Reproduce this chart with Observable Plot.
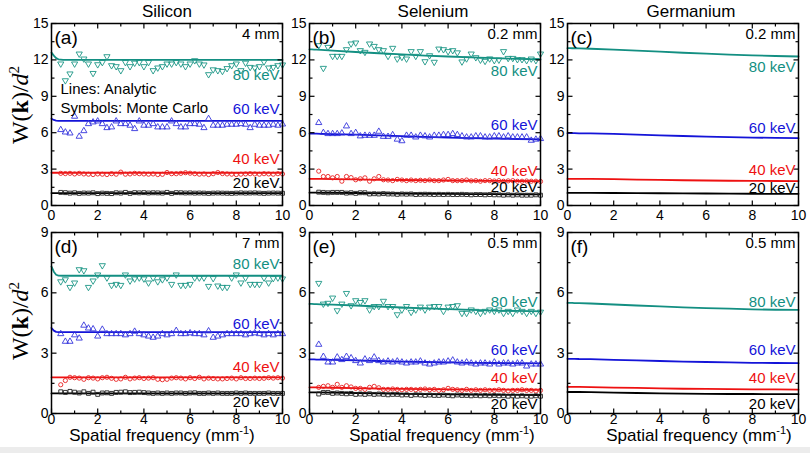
<!DOCTYPE html>
<html><head><meta charset="utf-8">
<script src="https://cdn.jsdelivr.net/npm/d3@7"></script>
<script src="https://cdn.jsdelivr.net/npm/@observablehq/plot@0.6"></script>
<style>
body{margin:0;background:#fff;}
#root{position:relative;width:810px;height:453px;background:#fff;overflow:hidden;font-family:"Liberation Sans",Arial,sans-serif;color:#000;}
.abs{position:absolute;white-space:nowrap;line-height:1;}
.coltitle{font-size:17px;transform:translateX(-50%);}
.xtitle{font-size:17px;transform:translateX(-50%);}
.xtitle sup{font-size:11px;vertical-align:baseline;position:relative;top:-0.6em;}
.ytitle{font-family:"Liberation Serif","Times New Roman",serif;font-size:24px;transform:translate(-50%,-50%) rotate(-90deg);}
.ytitle sup{font-size:15px;vertical-align:baseline;position:relative;top:-0.6em;}
</style></head>
<body><div id="root"></div>
<script>
// ---------- data ----------
const energies = ["80 keV", "60 keV", "40 keV", "20 keV"];
const columnTitles = ["Silicon", "Selenium", "Germanium"];
const panelLetters = ["(a)", "(b)", "(c)", "(d)", "(e)", "(f)"];
const thicknesses = ["4 mm", "0.2 mm", "0.2 mm", "7 mm", "0.5 mm", "0.5 mm"];
const xMajor = [0, 2, 4, 6, 8, 10];
const xMinor = [1, 3, 5, 7, 9];
const yMajorTop = [0, 3, 6, 9, 12, 15];
const yMinorTop = [1.5, 4.5, 7.5, 10.5, 13.5];
const yMajorBot = [0, 3, 6, 9];
const yMinorBot = [1.5, 4.5, 7.5];

// analytic curves
const lineX = [0, 0.1, 0.2, 0.3, 0.5, 1, 2, 3, 4, 5, 6, 7, 8, 9, 10];
const aL80 = [12.6,12.35,12.15,12.05,12.0,12.0,12.0,12.0,12.0,12.0,12.0,12.0,12.0,12.0,12.0];
const aL60 = [7.15,7.05,7.0,6.98,6.97,6.97,6.97,6.97,6.97,6.97,6.97,6.97,6.97,6.97,6.97];
const aL40 = [2.7,2.7,2.7,2.7,2.7,2.7,2.7,2.7,2.7,2.7,2.7,2.7,2.7,2.7,2.7];
const aL20 = [1.02,1.02,1.02,1.02,1.02,1.02,1.02,1.02,1.02,1.02,1.02,1.02,1.02,1.02,1.02];
const bL80 = [12.87,12.86,12.85,12.84,12.82,12.76,12.65,12.55,12.45,12.36,12.28,12.2,12.14,12.08,12.04];
const bL60 = [5.93,5.93,5.92,5.92,5.91,5.89,5.84,5.78,5.72,5.66,5.6,5.55,5.51,5.48,5.45];
const bL40 = [2.2,2.2,2.2,2.2,2.19,2.18,2.15,2.12,2.1,2.08,2.06,2.04,2.03,2.02,2.01];
const bL20 = [1.06,1.06,1.06,1.06,1.05,1.05,1.03,1.01,0.99,0.97,0.95,0.94,0.93,0.92,0.91];
const cL80 = [12.97,12.97,12.96,12.96,12.95,12.92,12.85,12.76,12.68,12.59,12.51,12.44,12.38,12.32,12.28];
const cL60 = [5.96,5.96,5.96,5.96,5.95,5.94,5.9,5.84,5.78,5.73,5.68,5.64,5.6,5.57,5.55];
const cL40 = [2.2,2.2,2.2,2.2,2.2,2.19,2.17,2.14,2.11,2.08,2.06,2.04,2.03,2.02,2.01];
const cL20 = [1.04,1.04,1.04,1.04,1.04,1.04,1.03,1.02,1.01,1.0,0.99,0.98,0.97,0.96,0.96];
const dL80 = [7.3,7.05,6.9,6.86,6.85,6.85,6.85,6.85,6.85,6.85,6.85,6.85,6.85,6.85,6.85];
const dL60 = [4.25,4.12,4.06,4.05,4.05,4.05,4.05,4.05,4.05,4.05,4.05,4.05,4.05,4.05,4.05];
const dL40 = [1.8,1.8,1.8,1.8,1.8,1.8,1.8,1.8,1.8,1.8,1.8,1.8,1.8,1.8,1.8];
const dL20 = [1.0,1.0,1.0,1.0,1.0,1.0,1.0,1.0,1.0,1.0,1.0,1.0,1.0,1.0,1.0];
const eL80 = [5.45,5.45,5.44,5.44,5.43,5.41,5.37,5.32,5.27,5.23,5.19,5.15,5.12,5.1,5.08];
const eL60 = [2.69,2.69,2.69,2.68,2.68,2.67,2.64,2.61,2.58,2.56,2.54,2.52,2.51,2.5,2.49];
const eL40 = [1.3,1.3,1.3,1.3,1.29,1.28,1.26,1.24,1.22,1.21,1.2,1.19,1.19,1.18,1.18];
const eL20 = [1.05,1.05,1.05,1.05,1.05,1.04,1.02,1.0,0.98,0.96,0.95,0.94,0.93,0.93,0.92];
const fL80 = [5.5,5.5,5.5,5.49,5.49,5.47,5.42,5.37,5.33,5.28,5.24,5.21,5.18,5.16,5.15];
const fL60 = [2.72,2.72,2.72,2.72,2.71,2.7,2.67,2.64,2.61,2.58,2.56,2.54,2.52,2.51,2.5];
const fL40 = [1.32,1.32,1.32,1.32,1.32,1.31,1.29,1.27,1.25,1.23,1.22,1.21,1.2,1.2,1.19];
const fL20 = [1.07,1.07,1.07,1.07,1.07,1.06,1.04,1.02,1.0,0.99,0.98,0.97,0.97,0.96,0.96];

// Monte Carlo points
const mcX = [0.4,0.6,0.8,1.0,1.2,1.4,1.6,1.8,2.0,2.2,2.4,2.6,2.8,3.0,3.2,3.4,3.6,3.8,4.0,4.2,4.4,4.6,4.8,5.0,5.2,5.4,5.6,5.8,6.0,6.2,6.4,6.6,6.8,7.0,7.2,7.4,7.6,7.8,8.0,8.2,8.4,8.6,8.8,9.0,9.2,9.4,9.6,9.8,10.0];
const aMC80 = [11.68,10.3,10.86,11.68,12.5,12.09,11.68,10.9,11.62,11.8,12.28,11.54,11.46,11.13,11.8,11.46,11.75,11.8,11.46,11.8,11.13,11.35,11.46,11.68,11.68,11.8,11.68,11.46,11.68,11.95,11.68,11.6,10.8,11.2,11.13,11.07,11.3,11.54,11.68,11.13,11.75,11.4,11.35,11.46,11.85,11.35,11.4,11.54,11.6];
const aMC60 = [6.24,6.04,5.96,7.34,5.69,6.15,6.73,6.87,6.95,6.73,6.4,6.46,6.95,6.73,6.73,6.6,6.32,6.95,6.6,6.6,6.73,6.46,6.46,6.46,6.95,6.73,6.46,6.46,6.73,6.73,6.68,6.4,7.15,6.6,6.6,6.6,6.68,6.68,6.68,6.73,6.68,6.4,6.68,6.6,6.6,6.6,6.68,6.6,6.7];
const aMC40 = [2.65,2.63,2.65,2.6,2.65,2.6,2.58,2.55,2.6,2.58,2.55,2.62,2.58,2.75,2.58,2.6,2.65,2.62,2.6,2.58,2.6,2.55,2.57,2.72,2.62,2.62,2.65,2.7,2.66,2.62,2.58,2.6,2.55,2.62,2.72,2.63,2.6,2.58,2.55,2.58,2.6,2.62,2.6,2.58,2.62,2.6,2.58,2.62,2.6];
const aMC20 = [1.08,1.06,1.02,1.05,1.0,1.03,1.02,1.05,0.98,1.02,1.0,0.98,1.05,1.02,1.08,1.0,1.06,1.04,1.06,1.03,1.05,1.04,1.02,1.08,1.0,1.06,1.05,1.03,1.04,1.02,1.03,1.02,1.0,1.02,1.03,1.02,1.01,1.0,1.02,1.04,1.02,1.03,1.04,1.02,1.0,1.02,1.03,1.02,1.01];
const bMC80 = [13.19,11.32,13.05,12.31,12.31,12.31,12.86,13.33,13.41,12.78,12.64,13.33,13.13,12.86,12.78,12.31,12.97,12.09,12.23,12.09,12.7,12.31,12.7,11.87,12.36,11.82,12.91,12.86,12.7,12.78,12.6,11.85,12.1,12.5,12.2,12.0,11.9,12.1,11.96,12.0,12.7,12.14,12.14,12.04,12.04,11.96,12.09,11.96,12.5];
const bMC60 = [6.82,6.0,5.91,5.91,5.91,5.96,6.54,5.91,6.0,5.72,5.77,5.77,5.77,6.1,5.68,5.68,5.82,5.45,5.32,5.77,5.77,5.63,5.77,5.72,5.63,5.77,5.77,5.83,5.83,5.91,5.83,5.72,5.63,5.63,5.72,5.72,5.63,5.63,5.72,5.72,5.63,5.72,5.63,5.63,5.63,5.63,5.36,5.45,5.5];
const bMC40 = [2.83,2.39,2.39,2.28,2.39,2.0,2.39,2.3,2.12,2.2,2.28,2.0,2.2,2.39,2.12,2.1,2.05,2.15,2.1,2.05,2.1,2.05,2.08,2.05,2.1,2.05,2.05,2.1,2.15,2.05,2.05,2.05,2.1,2.03,2.05,2.0,2.05,2.05,2.02,2.05,2.0,2.03,2.05,2.0,2.0,2.02,2.0,2.0,1.98];
const bMC20 = [1.1,1.08,1.05,1.08,1.08,1.08,1.02,1.05,1.0,1.05,1.05,0.95,0.97,0.95,0.98,0.95,0.95,0.92,0.95,0.93,0.95,0.9,0.92,0.93,0.92,0.9,0.92,0.9,0.92,0.9,0.9,0.92,0.9,0.88,0.9,0.9,0.88,0.9,0.88,0.88,0.85,0.88,0.85,0.88,0.85,0.85,0.85,0.88,0.85];
const dMC80 = [6.56,6.66,6.28,6.5,7.16,7.11,6.28,6.6,6.9,7.36,6.75,6.38,6.43,6.38,6.9,6.6,6.7,6.75,6.7,6.5,6.75,6.56,6.66,6.75,6.43,6.9,6.38,6.38,6.43,6.75,6.75,6.75,6.33,6.72,6.35,6.28,6.28,6.75,6.9,6.5,6.75,6.43,6.43,6.43,6.75,6.5,6.72,6.75,6.7];
const dMC60 = [3.96,3.58,3.58,3.9,3.74,4.38,4.24,4.2,3.84,4.18,3.96,3.96,3.96,3.96,3.9,3.96,4.08,3.96,3.9,3.84,3.78,3.84,3.96,3.9,3.96,4.12,3.96,3.96,4.0,3.96,3.96,3.9,4.1,3.78,3.84,3.9,3.96,3.96,3.96,3.96,3.9,3.96,4.0,3.96,3.9,3.96,3.9,3.96,3.96];
const dMC40 = [1.43,1.64,1.8,1.78,1.76,1.7,1.78,1.76,1.72,1.78,1.8,1.75,1.7,1.72,1.8,1.72,1.76,1.78,1.74,1.76,1.78,1.7,1.68,1.7,1.76,1.78,1.76,1.72,1.78,1.74,1.8,1.72,1.76,1.74,1.72,1.72,1.74,1.76,1.72,1.78,1.74,1.74,1.76,1.74,1.75,1.78,1.76,1.78,1.76];
const dMC20 = [1.08,1.05,1.1,1.06,1.02,1.08,1.0,1.06,0.95,1.02,1.03,1.0,1.05,1.06,1.08,1.04,1.05,1.06,1.04,1.02,1.0,1.02,1.0,1.02,1.0,1.02,1.02,1.0,1.02,1.03,1.0,1.0,1.02,1.0,1.02,1.0,1.0,1.0,1.02,1.0,1.02,1.0,1.0,1.0,1.0,1.02,1.0,1.0,1.0];
const eMC80 = [6.48,5.45,5.49,5.75,5.12,5.45,5.98,5.37,5.62,5.53,5.62,5.16,5.33,5.33,5.59,5.33,5.33,4.92,5.16,5.33,5.04,5.16,5.3,5.16,5.3,5.33,5.33,5.09,5.3,5.33,5.37,4.99,4.99,5.16,5.09,4.99,5.09,5.16,5.09,5.16,4.99,5.09,4.99,5.16,5.09,4.99,5.09,4.99,5.05];
const eMC60 = [3.43,2.83,2.55,2.55,2.8,2.67,2.83,2.76,2.62,2.5,2.7,2.62,2.8,2.62,2.55,2.6,2.55,2.6,2.55,2.5,2.55,2.55,2.6,2.5,2.45,2.5,2.55,2.55,2.6,2.65,2.55,2.5,2.55,2.5,2.45,2.5,2.5,2.45,2.55,2.45,2.5,2.5,2.45,2.5,2.5,2.35,2.45,2.45,2.45];
const eMC40 = [1.3,1.35,1.38,1.3,1.45,1.3,1.38,1.32,1.25,1.25,1.2,1.3,1.35,1.28,1.2,1.2,1.22,1.2,1.18,1.2,1.2,1.18,1.2,1.22,1.18,1.2,1.15,1.18,1.25,1.2,1.18,1.15,1.2,1.15,1.18,1.15,1.18,1.15,1.15,1.18,1.15,1.12,1.15,1.15,1.18,1.15,1.15,1.12,1.15];
const eMC20 = [0.97,1.05,1.05,1.0,1.02,1.0,0.98,1.0,0.95,0.97,0.95,0.98,0.95,0.97,0.95,0.93,0.95,0.95,0.92,0.93,0.9,0.93,0.92,0.9,0.92,0.9,0.9,0.92,0.9,0.88,0.92,0.9,0.9,0.88,0.9,0.88,0.9,0.88,0.9,0.88,0.88,0.86,0.88,0.86,0.88,0.86,0.86,0.88,0.86];

// energy label heights (data units) per panel, order 80/60/40/20 keV
const labelYa = [10.7, 7.9, 3.85, 1.85];
const labelYb = [11.05, 6.6, 2.84, 1.5];
const labelYc = [11.4, 6.37, 2.9, 1.42];
const labelYd = [7.44, 4.46, 2.3, 0.56];
const labelYe = [5.54, 3.13, 1.76, 0.48];
const labelYf = [5.54, 3.17, 1.77, 0.48];
const noteLines = ["Lines: Analytic", "Symbols: Monte Carlo"];

// ---------- styling ----------
const lineColors = ["#138f82", "#1414d8", "#ee1111", "#000000"];
const markColors = ["#1c9686", "#3434dc", "#e82020", "#202020"];
const sqrt3 = Math.sqrt(3);
const triDown = {draw(ctx, size) {
  const y = -Math.sqrt(size / (sqrt3 * 3));
  ctx.moveTo(0, -2 * y); ctx.lineTo(-sqrt3 * y, y); ctx.lineTo(sqrt3 * y, y); ctx.closePath();
}};
const markSymbols = [triDown, "triangle", "circle", "square"];
const markR = [2.3, 2.3, 2.1, 2.2];
const tickSym = (dx, dy) => ({draw(ctx) { ctx.moveTo(0, 0); ctx.lineTo(dx, dy); }});

const panels = [
  {left: 51,  top: 23,  h: 182, yMax: 15, yMaj: yMajorTop, yMin: yMinorTop, xPad: 5, lines: [aL80, aL60, aL40, aL20], mc: [aMC80, aMC60, aMC40, aMC20], labY: labelYa, note: true},
  {left: 309, top: 23,  h: 182, yMax: 15, yMaj: yMajorTop, yMin: yMinorTop, xPad: 5, lines: [bL80, bL60, bL40, bL20], mc: [bMC80, bMC60, bMC40, bMC20], labY: labelYb},
  {left: 567, top: 23,  h: 182, yMax: 15, yMaj: yMajorTop, yMin: yMinorTop, xPad: 5, lines: [cL80, cL60, cL40, cL20], mc: null, labY: labelYc},
  {left: 51,  top: 232, h: 181, yMax: 9,  yMaj: yMajorBot, yMin: yMinorBot, xPad: 1, lines: [dL80, dL60, dL40, dL20], mc: [dMC80, dMC60, dMC40, dMC20], labY: labelYd},
  {left: 309, top: 232, h: 181, yMax: 9,  yMaj: yMajorBot, yMin: yMinorBot, xPad: 1, lines: [eL80, eL60, eL40, eL20], mc: [eMC80, eMC60, eMC40, eMC20], labY: labelYe},
  {left: 567, top: 232, h: 181, yMax: 9,  yMaj: yMajorBot, yMin: yMinorBot, xPad: 1, lines: [fL80, fL60, fL40, fL20], mc: null, labY: labelYf}
];

const root = document.getElementById("root");
const ML = 30, MR = 10, MT = 10, MB = 24, PW = 231;

panels.forEach((p, k) => {
  const marks = [];
  p.lines.forEach((arr, i) => {
    marks.push(Plot.line(lineX.map((x, j) => ({x, y: arr[j]})), {x: "x", y: "y", stroke: lineColors[i], strokeWidth: 1.8}));
  });
  if (p.mc) {
    p.mc.forEach((arr, i) => {
      marks.push(Plot.dot(arr.map((y, j) => ({x: mcX[j], y})), {x: "x", y: "y", symbol: markSymbols[i], r: markR[i], stroke: markColors[i], fill: "none", strokeWidth: 0.9}));
    });
  }
  const tk = {stroke: "black", fill: "none", strokeWidth: 1.2};
  marks.push(
    Plot.dot(xMajor, {x: d => d, frameAnchor: "bottom", symbol: tickSym(0, -5), ...tk}),
    Plot.dot(xMinor, {x: d => d, frameAnchor: "bottom", symbol: tickSym(0, -3), ...tk}),
    Plot.dot(xMajor, {x: d => d, frameAnchor: "top", symbol: tickSym(0, 5), ...tk}),
    Plot.dot(xMinor, {x: d => d, frameAnchor: "top", symbol: tickSym(0, 3), ...tk}),
    Plot.dot(p.yMaj, {y: d => d, frameAnchor: "left", symbol: tickSym(5, 0), ...tk}),
    Plot.dot(p.yMin, {y: d => d, frameAnchor: "left", symbol: tickSym(3, 0), ...tk}),
    Plot.dot(p.yMaj, {y: d => d, frameAnchor: "right", symbol: tickSym(-5, 0), ...tk}),
    Plot.dot(p.yMin, {y: d => d, frameAnchor: "right", symbol: tickSym(-3, 0), ...tk}),
    Plot.frame({stroke: "black", strokeWidth: 1.5})
  );
  energies.forEach((t, i) => {
    marks.push(Plot.text([{t, y: p.labY[i]}], {y: "y", text: "t", frameAnchor: "right", textAnchor: "end", lineAnchor: "middle", dx: -3, fill: lineColors[i], fontSize: 15}));
  });
  marks.push(
    Plot.text([panelLetters[k]], {text: d => d, frameAnchor: "top-left", textAnchor: "start", lineAnchor: "middle", dx: 3, dy: 14, fontSize: 19, fill: "black"}),
    Plot.text([thicknesses[k]], {text: d => d, frameAnchor: "top-right", textAnchor: "end", lineAnchor: "middle", dx: -3, dy: 11, fontSize: 15, fill: "black"})
  );
  if (p.note) {
    marks.push(
      Plot.text([noteLines[0]], {text: d => d, frameAnchor: "top-left", textAnchor: "start", lineAnchor: "middle", dx: 9, dy: 66, fontSize: 15, fill: "black"}),
      Plot.text([noteLines[1]], {text: d => d, frameAnchor: "top-left", textAnchor: "start", lineAnchor: "middle", dx: 9, dy: 85, fontSize: 15, fill: "black"})
    );
  }
  const chart = Plot.plot({
    width: ML + PW + MR, height: MT + p.h + MB,
    marginLeft: ML, marginRight: MR, marginTop: MT, marginBottom: MB,
    x: {domain: [0, 10], ticks: xMajor, tickSize: 0, tickPadding: p.xPad, label: null},
    y: {domain: [0, p.yMax], ticks: p.yMaj, tickSize: 0, tickPadding: 3, label: null},
    style: {fontSize: "14px", fontFamily: "'Liberation Sans', Arial, sans-serif", background: "transparent", overflow: "visible", color: "black"},
    marks
  });
  const holder = document.createElement("div");
  holder.className = "abs";
  holder.style.left = (p.left - ML) + "px";
  holder.style.top = (p.top - MT) + "px";
  holder.appendChild(chart);
  root.appendChild(holder);
});

// column titles
const titleCenters = [167, 433, 691];
columnTitles.forEach((t, i) => {
  const d = document.createElement("div");
  d.className = "abs coltitle";
  d.style.left = titleCenters[i] + "px";
  d.style.top = "3px";
  d.textContent = t;
  root.appendChild(d);
});
// y titles
[105, 321].forEach(cy => {
  const d = document.createElement("div");
  d.className = "abs ytitle";
  d.style.left = "20px";
  d.style.top = cy + "px";
  d.innerHTML = "W(<b>k</b>)/<i>d</i><sup>2</sup>";
  root.appendChild(d);
});
// x titles
[162, 442, 699].forEach(cx => {
  const d = document.createElement("div");
  d.className = "abs xtitle";
  d.style.left = cx + "px";
  d.style.top = "427px";
  d.innerHTML = "Spatial frequency (mm<sup>-1</sup>)";
  root.appendChild(d);
});
const strip = document.createElement("div");
strip.className = "abs";
strip.style.cssText += "left:0;top:447px;width:810px;height:6px;background:#ececec;";
root.appendChild(strip);
</script></body></html>
